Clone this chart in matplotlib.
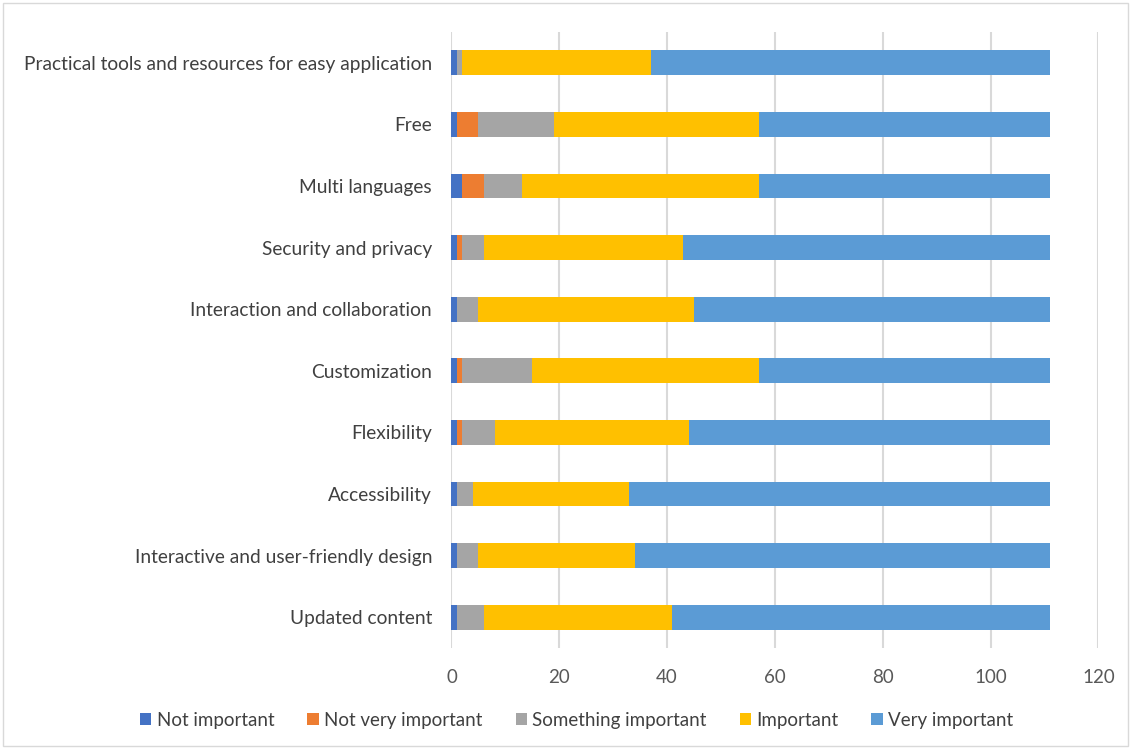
import numpy as np
import matplotlib.pyplot as plt
from matplotlib.patches import Rectangle

# Survey categories, bottom to top
categories = ['Updated content', 'Interactive and user-friendly design',
              'Accessibility', 'Flexibility', 'Customization',
              'Interaction and collaboration', 'Security and privacy',
              'Multi languages', 'Free',
              'Practical tools and resources for easy application']

series = ['Not important', 'Not very important', 'Something important',
          'Important', 'Very important']

not_important      = [1, 1, 1, 1, 1, 1, 1, 2, 1, 1]
not_very_important = [0, 0, 0, 1, 1, 0, 1, 4, 4, 0]
something          = [5, 4, 3, 6, 13, 4, 4, 7, 14, 1]
important          = [35, 29, 29, 36, 42, 40, 37, 44, 38, 35]
very_important     = [70, 77, 78, 67, 54, 66, 68, 54, 54, 74]

colors = ['#4472C4', '#ED7D31', '#A5A5A5', '#FFC000', '#5B9BD5']

plt.rcParams['font.family'] = ['Lato', 'DejaVu Sans']

fig = plt.figure(figsize=(11.31, 7.49), dpi=100)
ax = fig.add_axes([0.3992, 0.1348, 0.5719, 0.8225])

y = np.arange(len(categories))
left = np.zeros(len(categories))
for name, vals, c in zip(series, [not_important, not_very_important, something,
                                  important, very_important], colors):
    ax.barh(y, vals, left=left, height=0.4, color=c, label=name, zorder=3)
    left += np.array(vals)

# Axes styling
ax.set_xlim(0, 120)
ax.set_ylim(-0.5, len(categories) - 0.5)
ax.set_xticks(np.arange(0, 121, 20))
ax.set_yticks(y)
ax.set_yticklabels(categories)
ax.grid(axis='x', color='#d9d9d9', lw=1.5, zorder=0)
for s in ax.spines.values():
    s.set_visible(False)
ax.tick_params(axis='y', length=0, pad=14, labelsize=13.8, labelcolor='#404040')
ax.tick_params(axis='x', length=0, pad=15, labelsize=13.5, labelcolor='#595959')

ax.legend(loc='center', bbox_to_anchor=(0.51, 0.038),
          bbox_transform=fig.transFigure, ncol=5, frameon=False,
          fontsize=13.5, handlelength=0.6, handleheight=0.6,
          handletextpad=0.3, columnspacing=1.75, labelcolor='#404040')

# Outer frame
fig.patches.append(Rectangle((0.003, 0.004), 0.994, 0.992, transform=fig.transFigure,
                             fill=False, edgecolor='#d9d9d9', lw=1))

plt.savefig('out.png', dpi=100)
